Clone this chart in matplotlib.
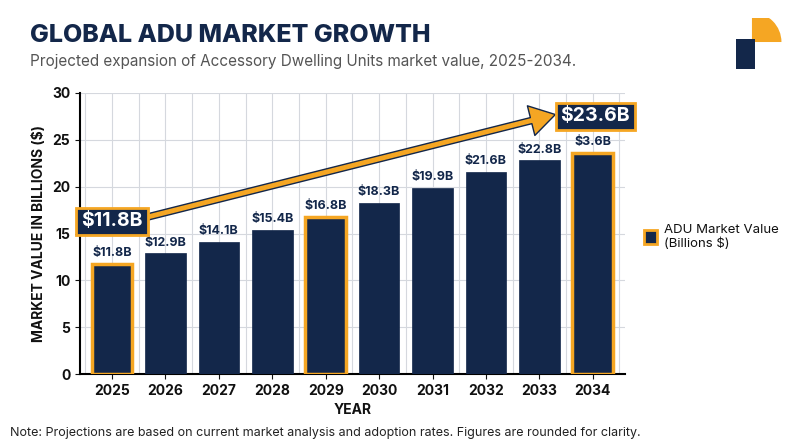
import matplotlib
matplotlib.use("Agg")
import matplotlib.pyplot as plt
from matplotlib.patches import Patch, Wedge, Rectangle
import numpy as np

years = ["2025","2026","2027","2028","2029","2030","2031","2032","2033","2034"]
values = [11.8,12.9,14.1,15.4,16.8,18.3,19.9,21.6,22.8,23.6]
labels = ["$11.8B","$12.9B","$14.1B","$15.4B","$16.8B","$18.3B","$19.9B","$21.6B","$22.8B","$3.6B"]
highlight = [0,4,9]

NAVY = "#13274a"
ORANGE = "#f5a623"
plt.rcParams['font.family'] = ['Inter', 'DejaVu Sans']
plt.rcParams['text.color'] = '#111'
plt.rcParams['axes.labelcolor'] = '#111'
plt.rcParams['xtick.color'] = '#111'
plt.rcParams['ytick.color'] = '#111'

fig = plt.figure(figsize=(8,4.47), dpi=100)
ax = fig.add_axes([0.1, 0.163, 0.681, 0.629])
x = np.arange(len(years))
for i,(xi,v) in enumerate(zip(x,values)):
    hl = i in highlight
    ax.bar(xi, v, width=0.76, color=NAVY, edgecolor=ORANGE if hl else NAVY,
           linewidth=2.5 if hl else 0.5, zorder=3)
    ax.text(xi, v+0.5, labels[i], ha='center', va='bottom', fontsize=9,
            fontweight='bold', color=NAVY, zorder=4)
ax.set_xlim(-0.6, 9.6)
ax.set_ylim(0, 30)
ax.set_yticks([0,5,10,15,20,25,30])
ax.set_xticks(x)
ax.set_xticklabels(years, fontweight='bold', fontsize=10)
for t in ax.get_yticklabels():
    t.set_fontweight('bold'); t.set_fontsize(10)
ax.set_xticks(np.arange(-0.5, 10, 1), minor=True)
ax.grid(True, which='both', axis='x', color='#d5d8de', lw=0.8, zorder=0)
ax.grid(True, axis='y', color='#d5d8de', lw=0.8, zorder=0)
ax.tick_params(axis='x', which='minor', length=0)
for s in ['top','right']:
    ax.spines[s].set_visible(False)
ax.spines['left'].set_linewidth(1.5)
ax.spines['bottom'].set_linewidth(1.5)
ax.set_xlabel("YEAR", fontweight='bold', fontsize=10)
ax.set_ylabel("MARKET VALUE IN BILLIONS ($)", fontweight='bold', fontsize=10)

ax.annotate("", xy=(8.3, 27.7), xytext=(0.55, 16.6),
            arrowprops=dict(arrowstyle="simple,head_length=1.8,head_width=2.2,tail_width=0.45",
                            fc=ORANGE, ec=NAVY, lw=1, shrinkA=0, shrinkB=0), zorder=5)
bb = dict(boxstyle="square,pad=0.25", fc=NAVY, ec=ORANGE, lw=2)
ax.text(0, 16.3, "$11.8B", ha='center', va='center', fontsize=14, fontweight='bold',
        color='white', bbox=bb, zorder=6)
ax.text(9.05, 27.5, "$23.6B", ha='center', va='center', fontsize=14, fontweight='bold',
        color='white', bbox=bb, zorder=6)

fig.text(0.037, 0.905, "GLOBAL ADU MARKET GROWTH", fontsize=18, fontweight='heavy', color=NAVY)
fig.text(0.037, 0.852, "Projected expansion of Accessory Dwelling Units market value, 2025-2034.",
         fontsize=11, color='#555')
fig.text(0.012, 0.025, "Note: Projections are based on current market analysis and adoption rates. Figures are rounded for clarity.",
         fontsize=9, color='#222')

fig.legend(handles=[Patch(fc=NAVY, ec=ORANGE, lw=2, label="ADU Market Value\n(Billions $)")],
           loc='center left', bbox_to_anchor=(0.805, 0.47), frameon=False, fontsize=9.5,
           handlelength=1.0, handleheight=1.3, handletextpad=0.5, borderaxespad=0, borderpad=0)

lax = fig.add_axes([0.915, 0.84, 0.07, 0.12])
lax.set_xlim(0,1); lax.set_ylim(0,1); lax.set_aspect('equal'); lax.axis('off')
lax.add_patch(Wedge((0.35,0.55), 0.55, 0, 90, fc=ORANGE))
lax.add_patch(Rectangle((0.05,0.05), 0.35, 0.55, fc=NAVY))
fig.savefig("out.png", dpi=100, facecolor='white')
